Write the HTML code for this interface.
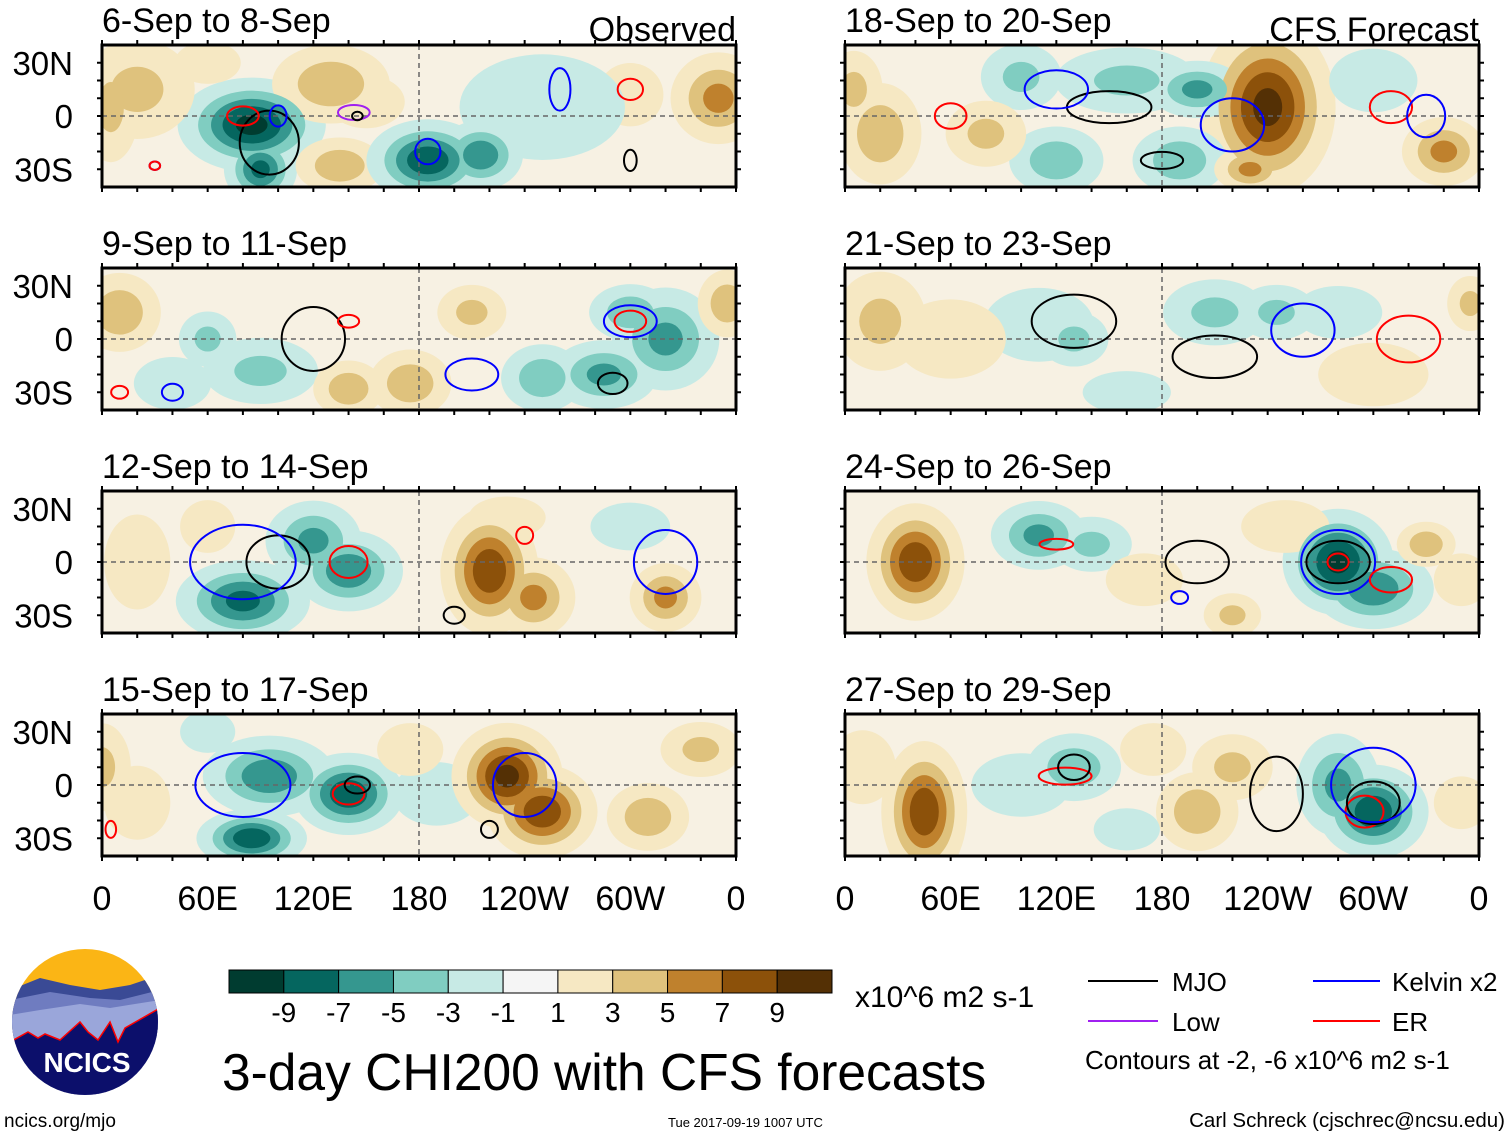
<!DOCTYPE html>
<html><head><meta charset="utf-8">
<style>
html,body{margin:0;padding:0;background:#fff;}
svg{display:block;font-family:"Liberation Sans",Arial,sans-serif;}
</style></head>
<body>
<svg id="chart" width="1510" height="1137" viewBox="0 0 1510 1137" xmlns="http://www.w3.org/2000/svg">
<g id="panels"></g>
<g id="xaxes"></g>
<g id="cbar"></g>
<text x="855" y="1007" font-size="30">x10^6 m2 s-1</text>
<text x="222" y="1090" font-size="51.5">3-day CHI200 with CFS forecasts</text>
<g>
 <line x1="1088" y1="981" x2="1158" y2="981" stroke="#000" stroke-width="2"/>
 <text x="1172" y="991" font-size="26">MJO</text>
 <line x1="1313" y1="981" x2="1380" y2="981" stroke="#0000ff" stroke-width="2"/>
 <text x="1392" y="991" font-size="26">Kelvin x2</text>
 <line x1="1088" y1="1021" x2="1158" y2="1021" stroke="#a020f0" stroke-width="2"/>
 <text x="1172" y="1031" font-size="26">Low</text>
 <line x1="1313" y1="1021" x2="1380" y2="1021" stroke="#ff0000" stroke-width="2"/>
 <text x="1392" y="1031" font-size="26">ER</text>
 <text x="1085" y="1069" font-size="26">Contours at -2, -6 x10^6 m2 s-1</text>
</g>
<g>
 <clipPath id="logoclip"><circle cx="85" cy="1022" r="73"/></clipPath>
 <g clip-path="url(#logoclip)">
  <rect x="10" y="948" width="150" height="150" fill="#fbb515"/>
  <path d="M10 990 L40 978 L70 985 L100 990 L130 985 L160 975 L160 1100 L10 1100Z" fill="#3a4a95"/>
  <path d="M10 1000 L50 992 L90 998 L120 1000 L160 990 L160 1100 L10 1100Z" fill="#6f7cc0"/>
  <path d="M10 1015 L40 1010 L80 1004 L110 1008 L160 1000 L160 1100 L10 1100Z" fill="#9aa6da"/>
  <path d="M10 1042 L28 1032 L38 1038 L45 1034 L60 1040 L80 1022 L88 1032 L98 1040 L110 1022 L118 1042 L125 1028 L160 1008 L160 1100 L10 1100Z" fill="#0c0f6b" stroke="#ff0000" stroke-width="1.5"/>
 </g>
 <text x="87" y="1072" font-size="28" font-weight="bold" fill="#fff" text-anchor="middle">NCICS</text>
</g>
<text x="4" y="1127" font-size="19">ncics.org/mjo</text>
<text x="668" y="1127" font-size="13">Tue 2017-09-19 1007 UTC</text>
<text x="1505" y="1127" font-size="20.5" text-anchor="end">Carl Schreck (cjschrec@ncsu.edu)</text>
</svg>
<script>
// ---- data ----
const panelTitles = ["6-Sep to 8-Sep","18-Sep to 20-Sep","9-Sep to 11-Sep","21-Sep to 23-Sep","12-Sep to 14-Sep","24-Sep to 26-Sep","15-Sep to 17-Sep","27-Sep to 29-Sep"];
const levelEdges = [-9,-7,-5,-3,-1,1,3,5,7,9];
const levelColors = ["#003c30","#05665f","#35978f","#80cdc1","#c7eae5","#f5f5f5","#f6e8c3","#dfc27d","#bf812d","#8c510a","#543005"];
const lonTickLabels = ["0","60E","120E","180","120W","60W","0"];
const latTickLabels = ["30N","0","30S"];
// blobs per panel: [lon, lat, value, rxDeg, ryDeg]
const blobs0 = [[85,-5,-10,24,16],[90,-30,-8,12,12],[20,15,4,20,18],[130,18,5,20,14],[135,-28,5,15,10],[5,5,4,10,20],[185,-25,-9,20,14],[215,-22,-7,14,12],[150,8,3,14,10],[350,10,6,16,16],[300,12,3,12,12],[250,5,-3,30,20],[60,30,3,12,8]];
const blobs1 = [[240,5,10,22,30],[160,20,-4,25,12],[200,15,-6,16,10],[100,22,-4,14,12],[120,-25,-5,16,12],[190,-25,-5,16,12],[20,-10,5,14,18],[80,-10,4,14,12],[340,-20,6,14,12],[300,20,-3,16,12],[230,-30,6,12,8],[5,15,4,10,14]];
const blobs2 = [[10,15,5,14,14],[60,0,-4,10,10],[90,-18,-4,20,12],[175,-25,5,14,12],[140,-28,5,12,10],[210,15,4,12,10],[320,0,-6,18,18],[250,-22,-5,14,12],[285,-20,-6,18,12],[355,20,5,10,12],[300,15,-5,14,10],[40,-25,-3,14,10]];
const blobs3 = [[110,8,-3,20,14],[130,0,-4,12,10],[210,15,-4,18,12],[245,15,-4,14,10],[280,15,-3,16,10],[60,0,3,20,15],[20,10,4,16,18],[160,-30,-3,16,8],[300,-20,3,20,12],[355,20,4,8,10]];
const blobs4 = [[120,12,-6,16,14],[140,-5,-7,18,14],[80,-22,-8,22,14],[220,-5,9,16,22],[245,-20,6,14,14],[320,-20,6,12,12],[20,0,3,12,18],[230,25,3,14,8],[60,20,3,10,10],[300,20,-2,16,10]];
const blobs5 = [[40,0,9,16,20],[110,15,-6,16,12],[140,10,-4,14,10],[280,0,-10,18,18],[300,-15,-7,20,14],[330,10,5,10,8],[220,-30,4,10,8],[170,-10,3,14,10],[350,-10,3,10,10],[250,20,3,16,10]];
const blobs6 = [[95,5,-7,22,14],[140,-5,-9,18,14],[85,-30,-9,18,10],[190,-5,-3,16,12],[230,5,10,18,18],[250,-15,9,18,16],[310,-18,5,14,12],[0,10,4,10,16],[20,-10,3,12,14],[340,20,4,14,10],[60,30,-3,10,8],[175,20,3,12,10]];
const blobs7 = [[45,-15,9,14,24],[130,10,-5,16,12],[100,0,-3,18,12],[200,-15,5,14,14],[300,-15,-9,18,16],[280,0,-6,14,18],[220,10,4,14,12],[175,20,3,12,10],[350,-10,3,10,10],[10,10,3,12,14],[160,-25,-3,12,8]];
const allBlobs = [blobs0,blobs1,blobs2,blobs3,blobs4,blobs5,blobs6,blobs7];
// contours per panel: [type, lon, lat, rxDeg, ryDeg]
const cont0 = [["mjo",95,-15,28,30],["er",80,0,15,9],["kel",100,0,8,10],["kel",30,-28,5,4],["er",30,-28,5,4],["low",143,2,15,7],["mjo",145,0,5,4],["kel",185,-20,12,12],["kel",260,15,10,20],["er",300,15,12,10],["mjo",300,-25,6,10]];
const cont1 = [["mjo",150,5,40,15],["kel",120,15,30,18],["er",60,0,15,12],["mjo",180,-25,20,8],["er",310,5,20,15],["kel",330,0,18,20],["kel",220,-5,30,25]];
const cont2 = [["mjo",120,0,30,30],["er",140,10,10,6],["kel",300,10,25,15],["er",300,10,15,10],["mjo",290,-25,14,10],["kel",40,-30,10,8],["er",10,-30,8,6],["kel",210,-20,25,15]];
const cont3 = [["mjo",130,10,40,25],["mjo",210,-10,40,20],["er",320,0,30,22],["kel",260,5,30,25]];
const cont4 = [["mjo",100,0,30,25],["er",140,0,18,15],["kel",80,0,50,35],["er",240,15,8,8],["kel",320,0,30,30],["mjo",200,-30,10,8]];
const cont5 = [["er",120,10,16,5],["er",280,0,10,8],["mjo",280,0,30,20],["kel",280,0,35,30],["mjo",200,0,30,20],["er",310,-10,20,12],["kel",190,-20,8,6]];
const cont6 = [["kel",80,0,45,30],["er",140,-5,15,10],["mjo",145,0,12,8],["kel",240,0,30,30],["mjo",220,-25,8,8],["er",5,-25,5,8]];
const cont7 = [["er",125,5,25,8],["mjo",130,10,15,12],["er",295,-15,18,15],["mjo",300,-10,25,20],["kel",300,0,40,35],["mjo",245,-5,25,35]];
const allContours = [cont0,cont1,cont2,cont3,cont4,cont5,cont6,cont7];

// ---- layout ----
const NS="http://www.w3.org/2000/svg";
const colX=[102,845], rowY=[45,268,491,714], PW=634, PH=142;
function mk(tag,attrs,parent){const e=document.createElementNS(NS,tag);for(const k in attrs)e.setAttribute(k,attrs[k]);parent.appendChild(e);return e;}
function colorFor(v){let i=0;while(i<levelEdges.length&&v>levelEdges[i])i++;return levelColors[i];}
const contColors={mjo:"#000",kel:"#0000ff",er:"#ff0000",low:"#a020f0"};
const panelsG=document.getElementById('panels');
allBlobs.forEach((bl,p)=>{
  const x0=colX[p%2], y0=rowY[Math.floor(p/2)];
  const sx=lon=>x0+lon/360*PW, sy=lat=>y0+(40-lat)/80*PH;
  const g=mk('g',{},panelsG);
  
  
  const cp=mk('clipPath',{id:'cp'+p},g);
  mk('rect',{x:x0,y:y0,width:PW,height:PH},cp);
  const inner=mk('g',{'clip-path':'url(#cp'+p+')'},g);
  mk('rect',{x:x0,y:y0,width:PW,height:PH,fill:'#f7f1e3'},inner);
  const levels=[1,3,5,7,9];
  levels.forEach(L=>{
    bl.forEach(b=>{
      const v=Math.abs(b[2]); if(v<=L) return;
      const f=Math.sqrt(Math.log(v/L)/Math.log(v/0.5));
      const el=mk('ellipse',{cx:sx(b[0]),cy:sy(b[1]),rx:b[3]/360*PW*f*2.0,ry:b[4]/80*PH*f*1.9,fill:colorFor(b[2]>0?L+1:-L-1)},inner);
      
      
    });
  });
  mk('line',{x1:x0,y1:sy(0),x2:x0+PW,y2:sy(0),stroke:'#666','stroke-width':1.5,'stroke-dasharray':'5,4'},inner);
  mk('line',{x1:sx(180),y1:y0,x2:sx(180),y2:y0+PH,stroke:'#666','stroke-width':1.5,'stroke-dasharray':'5,4'},inner);
  allContours[p].forEach(c=>{
    const el=mk('ellipse',{cx:sx(c[1]),cy:sy(c[2]),rx:c[3]/360*PW*0.6,ry:c[4]/80*PH*0.6,fill:'none',stroke:contColors[c[0]],'stroke-width':2},inner);
    
    
  });
  mk('rect',{x:x0,y:y0,width:PW,height:PH,fill:'none',stroke:'#000','stroke-width':3},g);
  for(let lon=0;lon<=360;lon+=20){
    mk('line',{x1:sx(lon),y1:y0-5,x2:sx(lon),y2:y0,stroke:'#000','stroke-width':2},g);
    mk('line',{x1:sx(lon),y1:y0+PH,x2:sx(lon),y2:y0+PH+5,stroke:'#000','stroke-width':2},g);
  }
  for(let lat=-30;lat<=30;lat+=10){
    mk('line',{x1:x0-5,y1:sy(lat),x2:x0,y2:sy(lat),stroke:'#000','stroke-width':2},g);
    mk('line',{x1:x0+PW,y1:sy(lat),x2:x0+PW+5,y2:sy(lat),stroke:'#000','stroke-width':2},g);
  }
  const t=mk('text',{x:x0,y:y0-13,'font-size':34},g); t.textContent=panelTitles[p];
  
  
  if(p<2){const s=mk('text',{x:x0+PW,y:y0-4,'font-size':34,'text-anchor':'end'},g);s.textContent=p==0?"Observed":"CFS Forecast";
    
    }
  if(p%2==0){[30,0,-30].forEach((lat,i)=>{const l=mk('text',{x:73,y:sy(lat)+12,'font-size':33,'text-anchor':'end'},g);l.textContent=latTickLabels[i];
    
    });}
});
const xa=document.getElementById('xaxes');
colX.forEach(x0=>{lonTickLabels.forEach((s,i)=>{const t=mk('text',{x:x0+i*60/360*PW,y:910,'font-size':34,'text-anchor':'middle'},xa);t.textContent=s;
  
  });});
const cb=document.getElementById('cbar');
const cbX=229,cbW=603,bw=cbW/levelColors.length;
levelColors.forEach((c,i)=>{const r=mk('rect',{x:cbX+i*bw,y:970,width:bw,height:23,fill:c,stroke:'#000','stroke-width':1},cb);
  
  });
levelEdges.forEach((v,i)=>{const t=mk('text',{x:cbX+(i+1)*bw,y:1022,'font-size':28,'text-anchor':'middle'},cb);t.textContent=v;
  
  });
</script>
</body></html>
